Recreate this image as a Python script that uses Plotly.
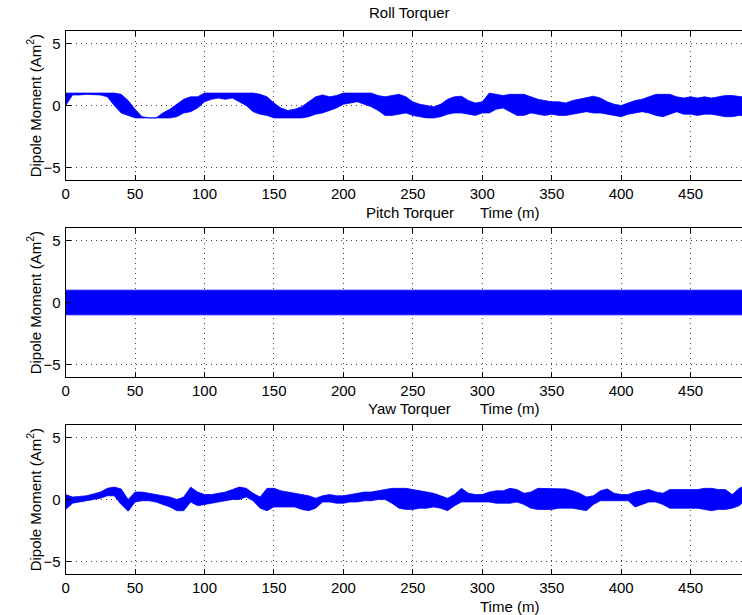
import plotly.graph_objects as go

# Sample times (minutes)
time_min = [0, 5, 10, 15, 20, 25, 30, 35, 40, 45,
            50, 55, 60, 65, 70, 75, 80, 85, 90, 95,
            100, 105, 110, 115, 120, 125, 130, 135, 140, 145,
            150, 155, 160, 165, 170, 175, 180, 185, 190, 195,
            200, 205, 210, 215, 220, 225, 230, 235, 240, 245,
            250, 255, 260, 265, 270, 275, 280, 285, 290, 295,
            300, 305, 310, 315, 320, 325, 330, 335, 340, 345,
            350, 355, 360, 365, 370, 375, 380, 385, 390, 395,
            400, 405, 410, 415, 420, 425, 430, 435, 440, 445,
            450, 455, 460, 465, 470, 475, 480, 485, 487]

# Envelopes (upper / lower) of the dipole moment signals
roll_upper = [1.0, 1.0, 1.0, 1.0, 1.0, 1.0, 1.0, 1.0, 0.9, 0.4,
              -0.3, -0.9, -1.0, -1.0, -0.6, -0.3, 0.1, 0.5, 0.7, 0.7,
              1.0, 1.0, 1.0, 1.0, 1.0, 1.0, 1.0, 1.0, 0.9, 0.7,
              0.2, -0.2, -0.4, -0.3, -0.1, 0.3, 0.7, 0.85, 0.7, 0.8,
              1.0, 1.0, 1.0, 1.0, 1.0, 0.8, 0.7, 0.8, 0.9, 0.7,
              0.3, 0.1, 0.0, -0.1, 0.1, 0.5, 0.7, 0.75, 0.4, 0.2,
              0.3, 1.0, 0.9, 0.8, 0.9, 0.9, 0.9, 0.7, 0.5, 0.4,
              0.3, 0.3, 0.2, 0.4, 0.5, 0.6, 0.75, 0.6, 0.3, 0.1,
              0.0, 0.2, 0.4, 0.5, 0.7, 0.9, 0.9, 0.9, 0.7, 0.6,
              0.7, 0.6, 0.7, 0.6, 0.7, 0.8, 0.8, 0.7, 0.7]
roll_lower = [0.0, 0.85, 0.85, 0.9, 0.9, 0.85, 0.7, 0.0, -0.6, -0.8,
              -1.0, -1.0, -1.0, -1.0, -1.0, -1.0, -0.9, -0.6, -0.5, -0.2,
              0.3, 0.5, 0.6, 0.5, 0.6, 0.3, 0.0, -0.5, -0.7, -0.8,
              -1.0, -1.0, -1.0, -1.0, -1.0, -0.9, -0.7, -0.6, -0.4, -0.2,
              0.1, 0.2, 0.3, 0.1, -0.1, -0.4, -0.8, -0.8, -0.7, -0.6,
              -0.8, -0.9, -1.0, -1.0, -0.9, -0.7, -0.6, -0.6, -0.7, -0.8,
              -0.6, -0.6, -0.3, -0.2, -0.5, -0.8, -0.8, -0.6, -0.7, -0.8,
              -0.7, -0.8, -0.8, -0.7, -0.6, -0.5, -0.6, -0.6, -0.7, -0.8,
              -0.9, -0.7, -0.6, -0.5, -0.6, -0.8, -0.9, -0.7, -0.5, -0.7,
              -0.7, -0.8, -0.7, -0.7, -0.8, -0.9, -0.9, -0.8, -0.8]

pitch_upper = [1.0] * 99
pitch_lower = [-1.0] * 99

yaw_upper = [0.4, 0.2, 0.25, 0.3, 0.45, 0.6, 0.9, 1.0, 0.85, 0.0,
             0.6, 0.6, 0.5, 0.4, 0.3, 0.2, 0.0, 0.2, 1.0, 0.6,
             0.4, 0.4, 0.5, 0.6, 0.8, 1.0, 0.9, 0.5, 0.2, 0.9,
             0.9, 0.7, 0.6, 0.5, 0.4, 0.3, 0.1, 0.3, 0.4, 0.3,
             0.3, 0.4, 0.5, 0.6, 0.6, 0.7, 0.8, 0.9, 0.9, 0.9,
             0.8, 0.7, 0.6, 0.5, 0.3, 0.1, 0.4, 0.9, 0.5, 0.4,
             0.4, 0.6, 0.7, 0.7, 0.9, 0.8, 0.5, 0.6, 0.9, 0.9,
             0.9, 0.9, 0.85, 0.7, 0.5, 0.2, 0.3, 0.7, 0.85, 0.5,
             0.4, 0.4, 0.6, 0.7, 0.8, 0.6, 0.5, 0.8, 0.8, 0.8,
             0.8, 0.8, 0.9, 0.9, 0.8, 0.8, 0.4, 0.9, 1.0]
yaw_lower = [-0.8, -0.3, -0.2, -0.1, 0.0, 0.1, 0.3, 0.3, -0.4, -0.95,
             -0.2, -0.1, -0.1, -0.2, -0.4, -0.6, -0.9, -0.9, -0.2, -0.5,
             -0.4, -0.3, -0.2, -0.1, 0.0, 0.0, 0.2, -0.1, -0.7, -0.9,
             -0.6, -0.6, -0.6, -0.6, -0.8, -0.9, -0.7, -0.2, -0.2, -0.3,
             -0.3, -0.2, -0.2, -0.1, -0.1, 0.0, 0.0, -0.3, -0.7, -0.8,
             -0.8, -0.7, -0.7, -0.6, -0.7, -0.9, -0.5, -0.2, -0.2, -0.2,
             -0.2, -0.2, -0.3, -0.3, -0.3, -0.2, -0.4, -0.7, -0.8, -0.8,
             -0.8, -0.7, -0.7, -0.7, -0.8, -0.9, -0.4, -0.1, -0.1, -0.1,
             -0.1, -0.1, -0.6, -0.4, -0.2, -0.2, -0.4, -0.7, -0.7, -0.7,
             -0.7, -0.7, -0.8, -0.9, -0.8, -0.8, -0.7, -0.5, -0.3]

panel_titles = ["Roll Torquer", "Pitch Torquer", "Yaw Torquer"]
x_ticks = [0, 50, 100, 150, 200, 250, 300, 350, 400, 450]
y_ticks = [-5, 0, 5]
x_label = "Time (m)"
y_label = "Dipole Moment (Am<sup>2</sup>)"

W, H = 742, 615
series = [(roll_upper, roll_lower), (pitch_upper, pitch_lower), (yaw_upper, yaw_lower)]
# pixel boxes of each axes (top, bottom)
boxes = [(31, 180), (228.3, 376.7), (425, 574)]
x_left = 62

FONT = "Liberation Sans, Arial, sans-serif"
FS = 15
fig = go.Figure()

for i, ((up, lo), (top, bot)) in enumerate(zip(series, boxes)):
    xa = "x" if i == 0 else f"x{i+1}"
    ya = "y" if i == 0 else f"y{i+1}"
    fig.add_trace(go.Scatter(
        x=time_min + time_min[::-1],
        y=up + lo[::-1],
        mode="lines", fill="toself",
        fillcolor="#0000FF", line=dict(color="#0000FF", width=0.8),
        xaxis=xa, yaxis=ya, showlegend=False, hoverinfo="skip"))
    axcommon = dict(showline=True, linecolor="black", linewidth=1,
                    ticks="inside", ticklen=5, tickcolor="black", tickwidth=1,
                    showgrid=True, gridcolor="#444444", gridwidth=1,
                    griddash="1px,4px", zeroline=False,
                    tickfont=dict(family=FONT, size=FS, color="black"))
    xkey = "xaxis" if i == 0 else f"xaxis{i+1}"
    ykey = "yaxis" if i == 0 else f"yaxis{i+1}"
    fig.update_layout(**{
        xkey: dict(axcommon, domain=[x_left / W, 1], range=[0, 487],
                   tickvals=x_ticks, mirror="ticks", anchor=ya,
                   ticklabelstandoff=0),
        ykey: dict(axcommon, domain=[1 - bot / H, 1 - top / H], range=[-6, 6],
                   tickvals=y_ticks, mirror=False, anchor=xa,
                   ticklabelstandoff=1),
    })

annotations = []
title_y = [12, 212, 408]
for i, ((top, bot), ty) in enumerate(zip(boxes, title_y)):
    annotations.append(dict(text=panel_titles[i], x=408 / W, y=1 - ty / H,
                            xref="paper", yref="paper", showarrow=False,
                            xanchor="center", yanchor="middle",
                            font=dict(family=FONT, size=FS, color="black")))
    annotations.append(dict(text=y_label, x=30 / W, y=1 - (top + bot) / 2 / H,
                            xref="paper", yref="paper", showarrow=False,
                            textangle=-90, xanchor="center", yanchor="middle",
                            font=dict(family=FONT, size=FS, color="black")))
for ty in [212, 408, 606]:
    annotations.append(dict(text=x_label, x=508 / W, y=1 - ty / H,
                            xref="paper", yref="paper", showarrow=False,
                            xanchor="center", yanchor="middle",
                            font=dict(family=FONT, size=FS, color="black")))

fig.update_layout(width=W, height=H, margin=dict(l=0, r=0, t=0, b=0),
                  paper_bgcolor="white", plot_bgcolor="white",
                  annotations=annotations)

fig.write_html("out.html")
